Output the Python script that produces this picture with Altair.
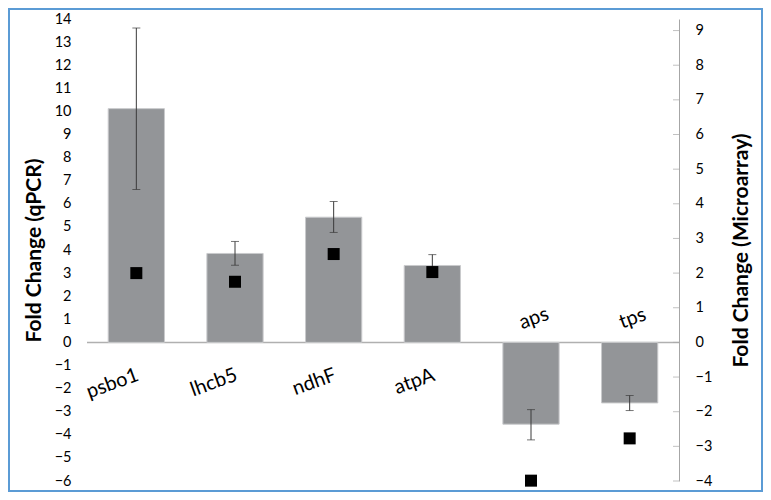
import altair as alt
import pandas as pd

genes = ["psbo1", "lhcb5", "ndhF", "atpA", "aps", "tps"]
qpcr = [10.12, 3.85, 5.42, 3.33, -3.54, -2.62]
err_lo = [6.62, 3.34, 4.76, 2.86, -4.22, -2.95]
err_hi = [13.61, 4.37, 6.10, 3.80, -2.91, -2.30]
micro = [2.00, 1.75, 2.55, 2.03, -3.99, -2.77]

left_ticks = list(range(-6, 15))
right_ticks = list(range(-4, 10))

df = pd.DataFrame({"gene": genes, "qpcr": qpcr, "lo": err_lo, "hi": err_hi, "micro": micro})
tick_df = pd.DataFrame({"t": right_ticks})
zero_df = pd.DataFrame({"z": [0]})

FONT = "Lato"
TL = "Fold Change (qPCR)"
TR = "Fold Change (Microarray)"
yl = alt.Scale(domain=[-6, 14], nice=False, zero=False)
yr = alt.Scale(domain=[-4, 14 * 4 / 6], nice=False, zero=False)
xs = alt.X("gene:N", sort=genes, axis=None,
           scale=alt.Scale(paddingInner=0.43, paddingOuter=0.215))

axL = alt.Axis(values=left_ticks, domain=False, ticks=False, grid=False,
               labelFontSize=14.5, labelFont=FONT, labelColor="black",
               labelPadding=16, titleFontSize=21, titleFont=FONT,
               titleFontWeight="bold", titleColor="black", titlePadding=10)
axR = alt.Axis(orient="right", values=right_ticks, domain=True,
               domainColor="#a6a6a6", ticks=False, grid=False,
               labelFontSize=14.5, labelFont=FONT, labelColor="black",
               labelPadding=16, titleFontSize=21, titleFont=FONT,
               titleFontWeight="bold", titleColor="black", titlePadding=19,
               titleAngle=270, titleBaseline="top")

base = alt.Chart(df)

zero = alt.Chart(zero_df).mark_rule(color="#b0b0b0", strokeWidth=1.5).encode(
    y=alt.Y("z:Q", scale=yl, axis=axL, title=TL))

bars = base.mark_bar(color="#939598", stroke="#c9cacc", strokeWidth=1).encode(
    x=xs, y=alt.Y("qpcr:Q", scale=yl, axis=axL, title=TL))

err = base.mark_rule(color="#3a3a3a", strokeWidth=1).encode(
    x=xs, y=alt.Y("lo:Q", scale=yl, axis=axL, title=TL), y2="hi:Q")
cap_lo = base.mark_tick(color="#3a3a3a", size=8, thickness=1, orient="horizontal").encode(
    x=xs, y=alt.Y("lo:Q", scale=yl, axis=axL, title=TL))
cap_hi = base.mark_tick(color="#3a3a3a", size=8, thickness=1, orient="horizontal").encode(
    x=xs, y=alt.Y("hi:Q", scale=yl, axis=axL, title=TL))

lab_pos = base.mark_text(angle=340, align="right", baseline="middle", dx=-9.5, dy=30.6,
                         fontSize=20, font=FONT, color="black").encode(
    x=xs, y=alt.YDatum(0, scale=yl, axis=axL, title=TL),
    text="gene:N").transform_filter("datum.qpcr >= 0")
lab_neg = base.mark_text(angle=340, align="center", baseline="middle", dx=11, dy=-21.5,
                         fontSize=20, font=FONT, color="black").encode(
    x=xs, y=alt.YDatum(0, scale=yl, axis=axL, title=TL),
    text="gene:N").transform_filter("datum.qpcr < 0")

border = alt.Chart(zero_df).mark_rect(fill=None, stroke="#5b9bd5", strokeWidth=2).encode(
    x=alt.value(-78), x2=alt.value(675), y=alt.value(-10), y2=alt.value(472))

left = alt.layer(zero, bars, err, cap_lo, cap_hi, lab_pos, lab_neg, border)

rticks = alt.Chart(tick_df).mark_tick(color="#a6a6a6", size=6, thickness=1,
                                      orient="horizontal").encode(
    x=alt.value(589), y=alt.Y("t:Q", scale=yr, axis=axR, title=TR))
points = base.mark_square(size=144, color="black", opacity=1).encode(
    x=xs, y=alt.Y("micro:Q", scale=yr, axis=axR, title=TR))
right = alt.layer(rticks, points)

chart = alt.layer(left, right).resolve_scale(y="independent").properties(
    width=592, height=462,
    autosize=alt.AutoSizeParams(type="none"),
    padding={"left": 79, "top": 11, "right": 84, "bottom": 11},
    background="white",
).configure_view(stroke=None)

chart.save("out.html", embed_options={"renderer": "svg", "actions": False})
